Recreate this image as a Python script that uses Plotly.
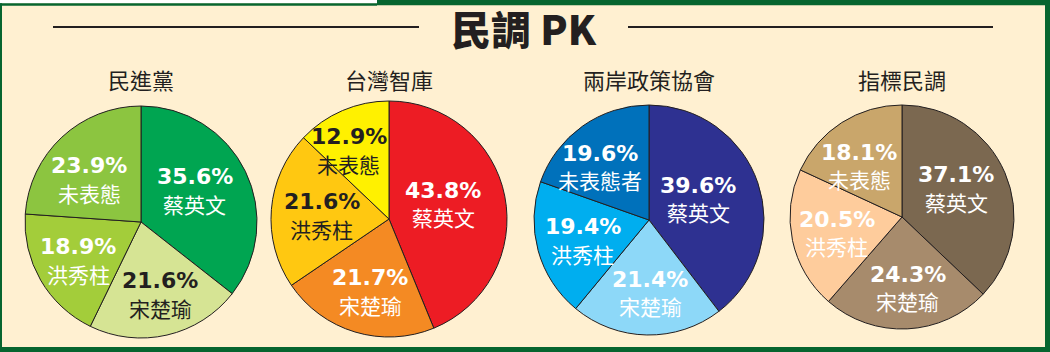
import numpy as np
import plotly.graph_objects as go

W, H = 1050, 352

# ---------------- data ----------------
main_title = "民調 PK"
poll_names = ["民進黨", "台灣智庫", "兩岸政策協會", "指標民調"]
labels_std = ["蔡英文", "宋楚瑜", "洪秀柱", "未表態"]
labels_cross = ["蔡英文", "宋楚瑜", "洪秀柱", "未表態者"]
dpp_values = [35.6, 21.6, 18.9, 23.9]
twthink_values = [43.8, 21.7, 21.6, 12.9]
cross_values = [39.6, 21.4, 19.4, 19.6]
indicator_values = [37.1, 24.3, 20.5, 18.1]

polls = [
    (poll_names[0], labels_std, dpp_values),
    (poll_names[1], labels_std, twthink_values),
    (poll_names[2], labels_cross, cross_values),
    (poll_names[3], labels_std, indicator_values),
]

# ---------------- style ----------------
CREAM = "#FFF0D1"
GREEN = "#07652F"
INK = "#231F20"
WHITE = "#FFFFFF"

colors = [
    ["#00A551", "#D6E494", "#A3CD3A", "#8CC540"],
    ["#ED1C24", "#F48A23", "#FFC811", "#FFF100"],
    ["#2E3191", "#8DD8F8", "#00AEEF", "#0071BB"],
    ["#7B6850", "#A78B6C", "#FECC9C", "#C9A66B"],
]
text_colors = [
    [WHITE, INK, WHITE, WHITE],
    [WHITE, WHITE, INK, INK],
    [WHITE, WHITE, WHITE, WHITE],
    [WHITE, WHITE, WHITE, WHITE],
]
centers = [(141, 222), (389, 219), (649, 220), (902, 217)]
radii = [116, 118, 115, 112]
# radial fraction of label placement (per poll, per slice)
label_frac = [
    [0.54, 0.64, 0.63, 0.58],
    [0.48, 0.63, 0.57, 0.68],
    [0.47, 0.63, 0.60, 0.63],
    [0.55, 0.63, 0.60, 0.60],
]
# small angular nudge of labels (degrees) per slice
label_shift = [-5, -2, -1, -7]


def px(x):
    return x / W


def py(y):
    return 1 - y / H


fig = go.Figure()
annotations = []

for i, (name, labels, values) in enumerate(polls):
    cx, cy = centers[i]
    r = radii[i]
    fig.add_trace(go.Pie(
        labels=labels, values=values, sort=False, direction="clockwise",
        rotation=0, textinfo="none", hoverinfo="label+value",
        marker=dict(colors=colors[i], line=dict(color=INK, width=1)),
        domain=dict(x=[px(cx - r), px(cx + r)], y=[py(cy + r), py(cy - r)]),
        showlegend=False,
    ))
    # poll title
    annotations.append(dict(
        x=px(cx), y=py(79), xref="paper", yref="paper", text=name,
        showarrow=False, xanchor="center", yanchor="middle",
        font=dict(family="Noto Sans CJK TC", size=22, color=INK),
    ))
    # slice labels
    cum = 0.0
    total = sum(values)
    for j, (lab, v) in enumerate(zip(labels, values)):
        theta = (cum + v / 2) / total * 2 * np.pi + np.radians(label_shift[j])
        cum += v
        f = label_frac[i][j]
        lx = cx + f * r * np.sin(theta)
        ly = cy - f * r * np.cos(theta)
        annotations.append(dict(
            x=px(lx), y=py(ly - 13), xref="paper", yref="paper",
            text=f"{v:.1f}%", showarrow=False, xanchor="center", yanchor="middle",
            font=dict(family="DejaVu Sans", size=22, color=text_colors[i][j], weight="bold"),
        ))
        annotations.append(dict(
            x=px(lx), y=py(ly + 14), xref="paper", yref="paper",
            text=lab, showarrow=False, xanchor="center", yanchor="middle",
            font=dict(family="Noto Sans CJK TC", size=21, color=text_colors[i][j]),
        ))

# main title
annotations.append(dict(
    x=px(524), y=py(28), xref="paper", yref="paper", text=main_title,
    showarrow=False, xanchor="center", yanchor="middle",
    font=dict(family="Noto Sans CJK TC", size=40, color=INK, weight=900),
))


def rect(x0, y0, x1, y1, color):
    return dict(type="rect", xref="paper", yref="paper",
                x0=px(x0), x1=px(x1), y0=py(y1), y1=py(y0),
                fillcolor=color, line=dict(width=0), layer="above")


shapes = [
    rect(0, 0, 377, 3.3, WHITE),
    rect(0, 3.3, 377, 5.7, GREEN),
    rect(377, 0, W, 5.3, GREEN),
    rect(0, 3.3, 2, H, GREEN),
    rect(1045, 0, W, H, GREEN),
    rect(0, 347, W, H, GREEN),
    dict(type="line", xref="paper", yref="paper", x0=px(53), x1=px(419),
         y0=py(27), y1=py(27), line=dict(color=INK, width=2)),
    dict(type="line", xref="paper", yref="paper", x0=px(628), x1=px(993),
         y0=py(27), y1=py(27), line=dict(color=INK, width=2)),
]

fig.update_layout(
    width=W, height=H, margin=dict(l=0, r=0, t=0, b=0),
    paper_bgcolor=CREAM, plot_bgcolor=CREAM,
    annotations=annotations, shapes=shapes,
)

fig.write_html("out.html", config={"displayModeBar": False})
